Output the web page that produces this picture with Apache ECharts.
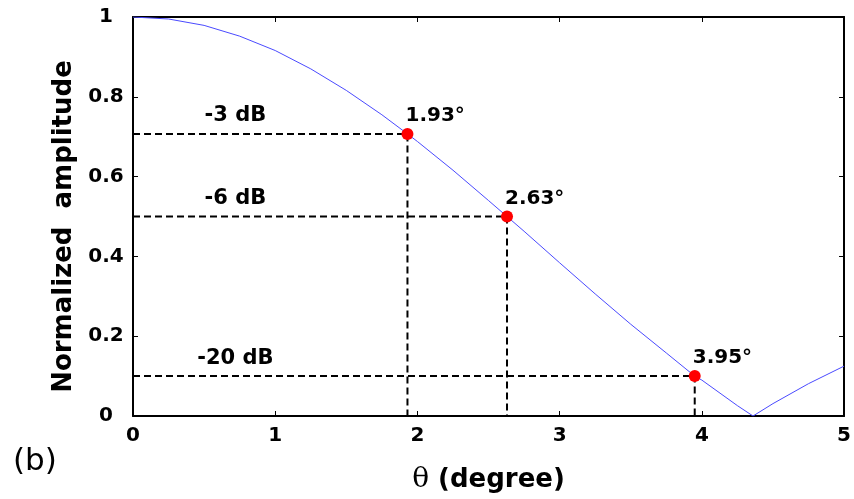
<!DOCTYPE html>
<html>
<head>
<meta charset="utf-8">
<script src="https://cdn.jsdelivr.net/npm/echarts@6/dist/echarts.min.js"></script>
<style>
  html, body { margin: 0; padding: 0; background: #fff; }
  #chart { width: 854px; height: 499px; }
</style>
</head>
<body>
<div id="chart"></div>
<script>
// Beam profile: angle (degrees) and normalized amplitude
const thetaDeg = [0, 0.25, 0.5, 0.75, 1.0, 1.25, 1.5, 1.75, 1.93, 2.0, 2.25, 2.5, 2.63, 2.75,
                  3.0, 3.25, 3.5, 3.75, 3.95, 4.0, 4.25, 4.36, 4.5, 4.75, 5.0];
const amplitude = [1.0, 0.995, 0.979, 0.952, 0.916, 0.870, 0.816, 0.755, 0.707, 0.688, 0.616, 0.540, 0.5, 0.463,
                   0.384, 0.306, 0.230, 0.158, 0.1, 0.090, 0.026, 0.0, 0.031, 0.081, 0.125];

// Marked beamwidth points
const markAngles = [1.93, 2.63, 3.95];
const markAmps = [0.707, 0.5, 0.1];
const markTexts = ['1.93°', '2.63°', '3.95°'];
const levelTexts = ['-3 dB', '-6 dB', '-20 dB'];

const xTicks = ['0', '1', '2', '3', '4', '5'];
const yTicks = ['0', '0.2', '0.4', '0.6', '0.8', '1'];

const FONT = "'DejaVu Sans', Arial, sans-serif";

const curve = thetaDeg.map((t, i) => [t, amplitude[i]]);

const series = [{
  type: 'line',
  data: curve,
  showSymbol: false,
  symbol: 'none',
  lineStyle: { color: '#4a4aff', width: 1 },
  z: 3
}];

// dashed guide lines from the axes to each marked point
markAngles.forEach((a, i) => {
  series.push({
    type: 'line',
    data: [[0, markAmps[i]], [a, markAmps[i]], [a, 0]],
    symbol: 'none',
    lineStyle: { color: '#000', width: 2, type: [7, 4] },
    z: 2
  });
});

// red markers with angle labels
series.push({
  type: 'scatter',
  data: markAngles.map((a, i) => [a, markAmps[i]]),
  symbolSize: 12,
  itemStyle: { color: '#ff0000', opacity: 1 },
  label: {
    show: true,
    formatter: p => markTexts[p.dataIndex],
    position: 'top',
    align: 'left',
    offset: [-2, 3],
    color: '#000',
    fontFamily: FONT,
    fontWeight: 'bold',
    fontSize: 20
  },
  z: 5
});

// level captions above the horizontal guides
series.push({
  type: 'scatter',
  data: markAmps.map(v => [0.72, v + 0.045]),
  symbolSize: 0,
  itemStyle: { opacity: 1 },
  label: {
    show: true,
    formatter: p => levelTexts[p.dataIndex],
    position: 'inside',
    color: '#000',
    fontFamily: FONT,
    fontWeight: 'bold',
    fontSize: 21
  },
  z: 5
});

const chart = echarts.init(document.getElementById('chart'), null, { renderer: 'canvas' });

const axisLine = { show: true, onZero: false, lineStyle: { color: '#000', width: 2 } };
const tickIn = { show: true, inside: true, length: 5, lineStyle: { color: '#000', width: 1 } };

chart.setOption({
  animation: false,
  backgroundColor: '#fff',
  title: {
    text: '(b)',
    left: 8,
    top: 441,
    textStyle: { fontFamily: FONT, fontWeight: 'normal', fontSize: 31, color: '#000' }
  },
  grid: { left: 133, right: 7, top: 17, bottom: 83 },
  xAxis: [{
    type: 'value', min: 0, max: 5, interval: 1,
    axisLine, axisTick: tickIn, splitLine: { show: false },
    axisLabel: {
      margin: 10, color: '#000', fontFamily: FONT, fontWeight: 'bold', fontSize: 20,
      formatter: v => xTicks[Math.round(v)]
    },
    name: '{t|θ} (degree)', nameLocation: 'middle', nameGap: 50,
    nameTextStyle: {
      color: '#000', fontFamily: FONT, fontWeight: 'bold', fontSize: 26,
      rich: { t: { fontFamily: "'DejaVu Serif', serif", fontWeight: 'normal', fontSize: 28, color: '#000' } }
    }
  }, {
    type: 'value', min: 0, max: 5, interval: 1, position: 'top',
    axisLine, axisTick: tickIn, axisLabel: { show: false }, splitLine: { show: false }
  }],
  yAxis: [{
    type: 'value', min: 0, max: 1, interval: 0.2,
    axisLine, axisTick: tickIn, splitLine: { show: false },
    axisLabel: {
      margin: 27, align: 'center', color: '#000', fontFamily: FONT, fontWeight: 'bold', fontSize: 20,
      formatter: v => yTicks[Math.round(v * 5)]
    },
    name: 'Normalized  amplitude', nameLocation: 'middle', nameGap: 52,
    nameTextStyle: { color: '#000', fontFamily: FONT, fontWeight: 'bold', fontSize: 26, padding: [0, 20, 0, 0] }
  }, {
    type: 'value', min: 0, max: 1, interval: 0.2, position: 'right',
    axisLine, axisTick: tickIn, axisLabel: { show: false }, splitLine: { show: false }
  }],
  series
});
</script>
</body>
</html>
